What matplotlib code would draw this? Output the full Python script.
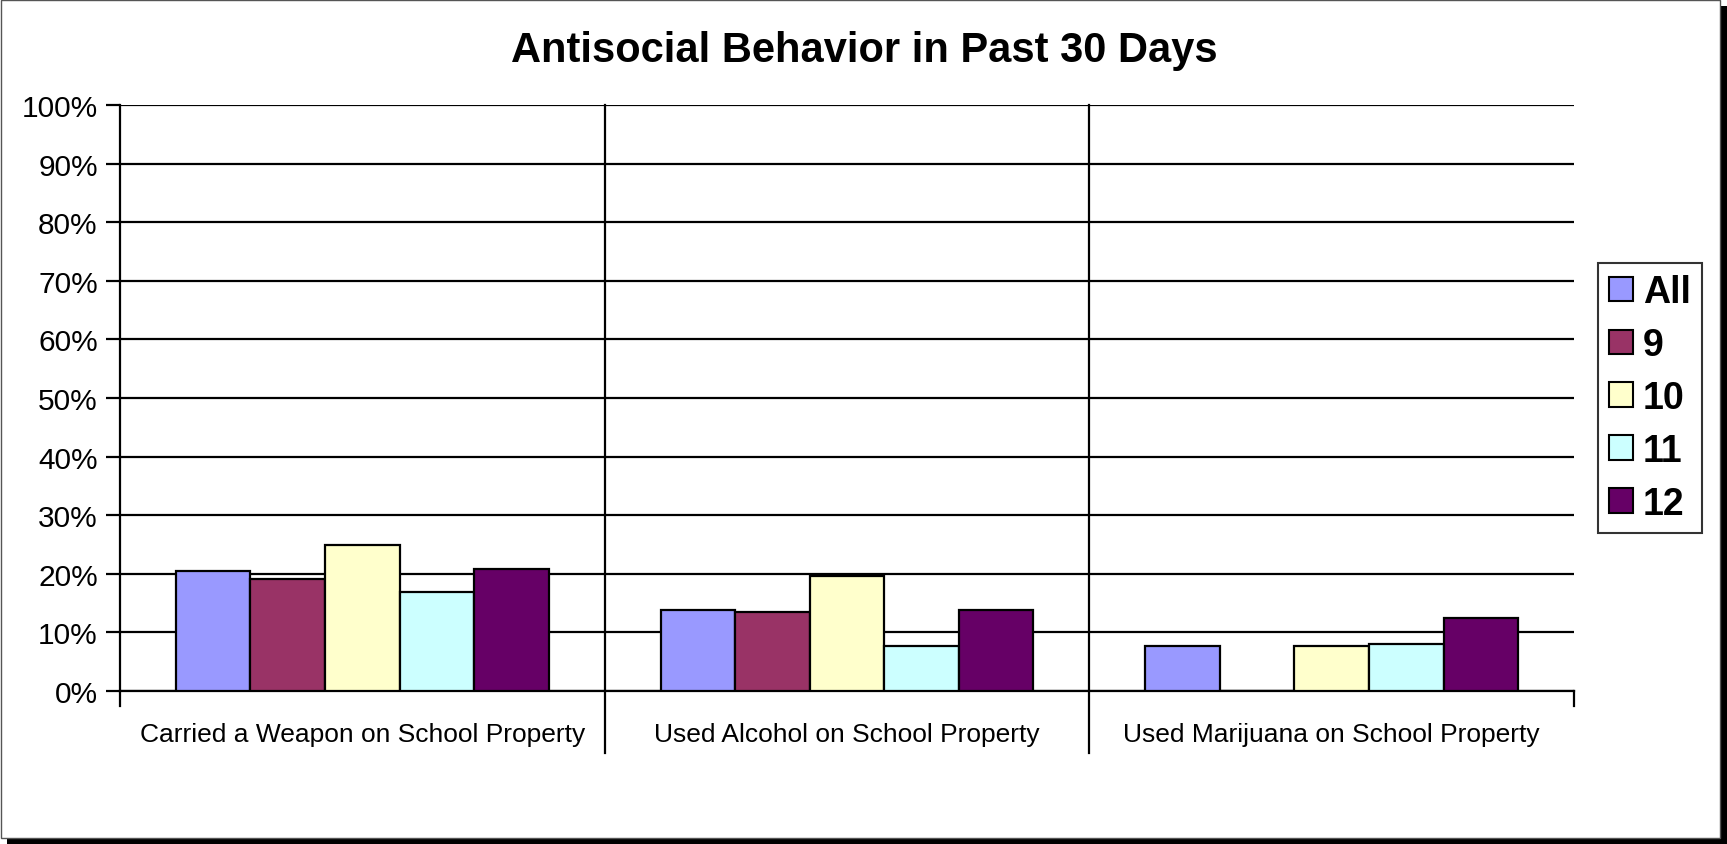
import matplotlib
matplotlib.use("Agg")
import matplotlib.pyplot as plt
import numpy as np
from matplotlib.patches import Patch, Rectangle
from matplotlib.ticker import FuncFormatter

plt.rcParams["font.family"] = ["Liberation Sans", "DejaVu Sans"]

# data (percent)
categories = [
    "Carried a Weapon on School Property",
    "Used Alcohol on School Property",
    "Used Marijuana on School Property",
]
series_names = ["All", "9", "10", "11", "12"]
series_colors = ["#9999FF", "#993366", "#FFFFCC", "#CCFFFF", "#660066"]
all_grades = [20.5, 13.8, 7.7]
grade_9 = [19.1, 13.4, 0.0]
grade_10 = [25.0, 19.6, 7.7]
grade_11 = [16.9, 7.7, 8.1]
grade_12 = [20.9, 13.8, 12.5]
series_values = [all_grades, grade_9, grade_10, grade_11, grade_12]
y_ticks = list(range(0, 101, 10))

W, H = 1727, 845
figure = plt.figure(figsize=(W / 100, H / 100), dpi=100)

# chart area border with shadow
figure.patches.append(Rectangle((7 / W, 0), 1 - 7 / W, 1 - 7 / H, transform=figure.transFigure,
                                facecolor="black", edgecolor="none", zorder=0))
figure.patches.append(Rectangle((1 / W, 6 / H), 1 - 8 / W, 1 - 7 / H, transform=figure.transFigure,
                                facecolor="white", edgecolor="#555555", linewidth=1, zorder=1))

left, right, top, bottom = 120, 1574, 106, 692
axis = figure.add_axes([left / W, 1 - bottom / H, (right - left) / W, (bottom - top) / H])
axis.set_zorder(2)
axis.patch.set_alpha(0)

n_series = len(series_names)
bar_width = 1 / (n_series + 1.5)
x = np.arange(len(categories))
for index, (name, values, color) in enumerate(zip(series_names, series_values, series_colors)):
    offset = (index - (n_series - 1) / 2) * bar_width
    axis.bar(x + offset, values, width=bar_width, color=color, edgecolor="black",
             linewidth=1.6, label=name, zorder=3)

axis.set_xlim(-0.5, len(categories) - 0.5)
axis.set_ylim(0, 100)
axis.set_yticks(y_ticks)
axis.yaxis.set_major_formatter(FuncFormatter(lambda v, _: f"{v:.0f}%"))
axis.tick_params(axis="y", length=10, width=1.6, pad=6, labelsize=21.5, colors="black")
axis.yaxis.grid(True, color="black", linewidth=1.6)
axis.set_axisbelow(True)

axis.set_xticks(x)
axis.set_xticklabels(categories, fontsize=19)
axis.tick_params(axis="x", length=0, pad=22)

for side in ("top", "right"):
    axis.spines[side].set_visible(False)
axis.spines["left"].set_linewidth(1.6)
axis.spines["bottom"].set_linewidth(1.6)

# category dividers and edge tick marks
axis_height = bottom - top
for boundary in (0.5, 1.5):
    axis.plot([boundary, boundary], [-(754 - bottom) / axis_height, 1], color="black", linewidth=1.6,
              transform=axis.get_xaxis_transform(), clip_on=False, zorder=2)
for boundary in (-0.5, len(categories) - 0.5):
    axis.plot([boundary, boundary], [-(707 - bottom) / axis_height, 0], color="black", linewidth=1.6,
              transform=axis.get_xaxis_transform(), clip_on=False, zorder=2)

figure.text(864 / W, 1 - 51 / H, "Antisocial Behavior in Past 30 Days", ha="center", va="center",
            fontsize=30, fontweight="bold")

handles = [Patch(facecolor=c, edgecolor="black", linewidth=1.5) for c in series_colors]
legend = figure.legend(handles, series_names, loc="center left",
                       bbox_to_anchor=(1598 / W, 1 - 399 / H),
                       prop={"weight": "bold", "size": 27}, frameon=True, fancybox=False,
                       handlelength=0.64, handleheight=0.64, handletextpad=0.25,
                       labelspacing=0.45, borderpad=0.3, borderaxespad=0)
legend.get_frame().set_edgecolor("black")
legend.get_frame().set_linewidth(1.5)

figure.savefig("out.png", dpi=100)
plt.close(figure)
